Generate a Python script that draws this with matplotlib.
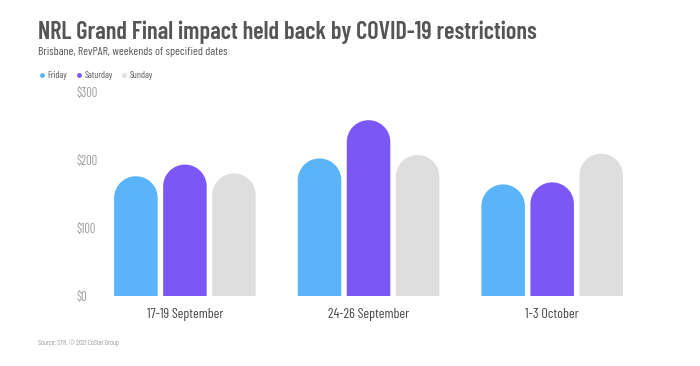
import numpy as np
import matplotlib
matplotlib.use('Agg')
import matplotlib.pyplot as plt
from matplotlib.path import Path
from matplotlib.patches import PathPatch

plt.rcParams['font.family'] = ['Barlow Condensed', 'DejaVu Sans']

# data
categories = ['17-19 September', '24-26 September', '1-3 October']
days = ['Friday', 'Saturday', 'Sunday']
friday = [176, 202, 164]
saturday = [193, 258, 167]
sunday = [180, 207, 209]
colors = ['#5ab4fa', '#7b57f5', '#dedede']

fig = plt.figure(figsize=(7, 3.66), dpi=100)
ax = fig.add_axes([0.133, 0.19, 0.787, 0.56])
ax.set_xlim(-0.5, 2.5)
ax.set_ylim(0, 300)

# pixels per data unit, so the bar tops come out round
px_x = fig.get_figwidth() * fig.dpi * 0.787 / 3.0
px_y = fig.get_figheight() * fig.dpi * 0.56 / 300.0

step = 0.267
width = 0.237


def round_bar(ax, xc, h, w, color):
    rx = w / 2
    ry = min(rx * px_x / px_y, h)
    t = np.linspace(np.pi, 0, 40)
    xs = xc + rx * np.cos(t)
    ys = (h - ry) + ry * np.sin(t)
    verts = [(xc - rx, 0)] + list(zip(xs, ys)) + [(xc + rx, 0), (xc - rx, 0)]
    codes = [Path.MOVETO] + [Path.LINETO] * (len(verts) - 2) + [Path.CLOSEPOLY]
    ax.add_patch(PathPatch(Path(verts, codes), facecolor=color, edgecolor='none'))


x = np.arange(len(categories))
for i, vals in enumerate([friday, saturday, sunday]):
    for j, v in enumerate(vals):
        round_bar(ax, x[j] + (i - 1) * step, v, width, colors[i])

for s in ax.spines.values():
    s.set_visible(False)
ax.set_xticks(x)
ax.set_xticklabels(categories, fontsize=10, color='#444444')
ax.tick_params(axis='x', length=0, pad=8)
ax.set_yticks([0, 100, 200, 300])
ax.set_yticklabels(['$0', '$100', '$200', '$300'], fontsize=9, color='#9a9a9a')
ax.tick_params(axis='y', length=0, pad=12.2)
for lab in ax.get_yticklabels():
    lab.set_horizontalalignment('left')

fig.text(0.054, 0.912, 'NRL Grand Final impact held back by COVID-19 restrictions',
         fontsize=17.5, fontweight='semibold', color='#555555', va='center')
fig.text(0.054, 0.857, 'Brisbane, RevPAR, weekends of specified dates',
         fontsize=8.5, color='#555555', va='center')

# legend
leg_x = [0.0596, 0.1129, 0.1771]
for lx, c, d in zip(leg_x, colors, days):
    fig.lines.append(plt.Line2D([lx], [0.795], marker='o', markersize=3.5, linestyle='none',
                                markerfacecolor=c, markeredgecolor='none',
                                transform=fig.transFigure, figure=fig))
    fig.text(lx + 0.0075, 0.795, d, fontsize=6.8, color='#555555', va='center')

fig.text(0.055, 0.063, 'Source: STR. \u00a9 2021 CoStar Group', fontsize=5,
         color='#999999', va='center')

fig.savefig('out.png', dpi=100)
